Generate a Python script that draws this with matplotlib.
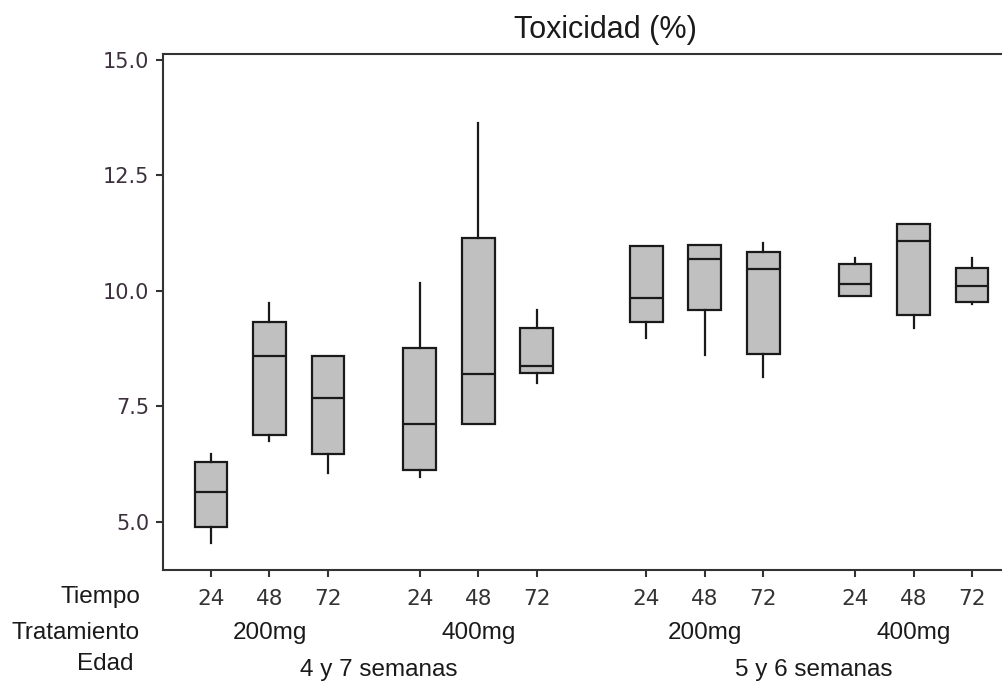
import matplotlib
matplotlib.use("Agg")
import matplotlib.pyplot as plt
import numpy as np

# values (Toxicidad %)
tiempo = ["24", "48", "72"] * 4
tratamiento = ["200mg", "400mg", "200mg", "400mg"]
edad = ["4 y 7 semanas", "5 y 6 semanas"]

whis_lo = [4.55, 6.75, 6.06, 5.97, 7.12, 8.00, 8.98, 8.61, 8.14, 9.89, 9.20, 9.72]
q1 = [4.89, 6.88, 6.47, 6.13, 7.12, 8.22, 9.33, 9.59, 8.64, 9.89, 9.48, 9.76]
med = [5.65, 8.59, 7.68, 7.12, 8.20, 8.38, 9.85, 10.69, 10.47, 10.15, 11.08, 10.11]
q3 = [6.30, 9.33, 8.59, 8.77, 11.15, 9.20, 10.97, 11.00, 10.84, 10.58, 11.45, 10.50]
whis_hi = [6.47, 9.74, 8.59, 10.17, 13.64, 9.59, 10.97, 11.00, 11.04, 10.71, 11.45, 10.71]

# layout: extra spacing between treatment groups and between age groups
group_offset = [0, 0.57, 1.44, 2.01]
pos = [g * 3 + t + group_offset[g] for g in range(4) for t in range(3)]

stats = []
for i in range(len(med)):
    stats.append(dict(whislo=whis_lo[i], q1=q1[i], med=med[i], q3=q3[i], whishi=whis_hi[i], fliers=[]))

W, H = 1003, 685
fig = plt.figure(figsize=(W / 100, H / 100), dpi=100)
ax = fig.add_axes([163 / W, 1 - 570 / H, 1 - 163 / W, (570 - 54) / H])

ax.bxp(stats, positions=pos, widths=0.56, showcaps=False, patch_artist=True,
       boxprops=dict(facecolor="#c0c0c0", edgecolor="#1a1a1a", linewidth=1.6),
       medianprops=dict(color="#1a1a1a", linewidth=1.6),
       whiskerprops=dict(color="#1a1a1a", linewidth=1.6))

ax.set_xlim(-0.82, 13.54)
ax.set_ylim(3.96, 15.13)
ax.set_yticks([5.0, 7.5, 10.0, 12.5, 15.0])
ax.set_yticklabels(["5.0", "7.5", "10.0", "12.5", "15.0"], fontsize=15, color="#3b303b",
                   family="DejaVu Sans")
ax.set_xticks(pos)
ax.set_xticklabels(tiempo, fontsize=15.5, color="#333333", family="DejaVu Sans")
ax.tick_params(direction="out", length=5, width=1.5, color="#333333")
ax.tick_params(axis="x", pad=9)
ax.tick_params(axis="y", pad=5)
ax.spines["right"].set_visible(False)
for s in ["left", "top", "bottom"]:
    ax.spines[s].set_color("#333333")
    ax.spines[s].set_linewidth(1.5)

lab = dict(fontsize=17.5, color="#1a1a1a", family="Liberation Sans")
fig.text(605 / W, 1 - 30 / H, "Toxicidad (%)", ha="center", va="center", fontsize=22,
         color="#1a1a1a", family="Liberation Sans")
fig.text(140 / W, 1 - 597 / H, "Tiempo", ha="right", va="center", **lab)
fig.text(140 / W, 1 - 633 / H, "Tratamiento", ha="right", va="center", **lab)
fig.text(134 / W, 1 - 664 / H, "Edad", ha="right", va="center", **lab)

# treatment labels centred under each group's middle box
for g in range(4):
    x_fig = ax.transData.transform((pos[g * 3 + 1], 0))[0] / W
    fig.text(x_fig, 1 - 633 / H, tratamiento[g], ha="center", va="center", **lab)

# age labels centred under their two treatment groups
for e in range(2):
    mid = (pos[e * 6] + pos[e * 6 + 5]) / 2
    x_fig = ax.transData.transform((mid, 0))[0] / W
    fig.text(x_fig + 5 / W, 1 - 670 / H, edad[e], ha="center", va="center", **lab)

fig.savefig("out.png", dpi=100)
